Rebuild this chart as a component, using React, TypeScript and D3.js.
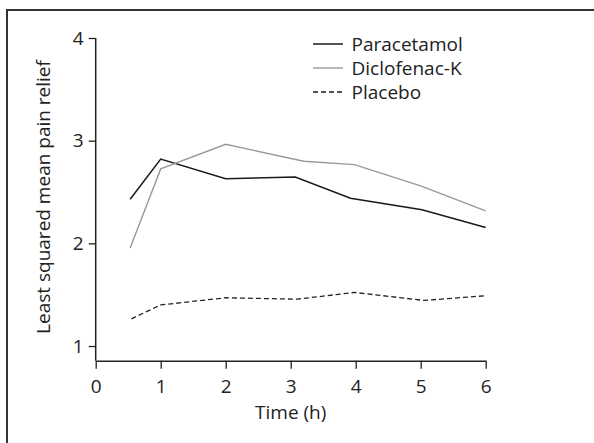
import * as React from "react";
import * as d3 from "d3";

// values
const paracetamolTime = [0.53, 1, 2, 3.07, 3.92, 5.02, 6];
const paracetamol = [2.43, 2.82, 2.63, 2.645, 2.44, 2.327, 2.155];
const diclofenacTime = [0.53, 1, 2, 3.2, 3.98, 5.0, 6];
const diclofenac = [1.955, 2.725, 2.965, 2.8, 2.767, 2.56, 2.317];
const placeboTime = [0.55, 1, 2, 3.1, 3.98, 5.05, 6];
const placebo = [1.265, 1.4, 1.47, 1.456, 1.522, 1.444, 1.49];

const xTicks = [0, 1, 2, 3, 4, 5, 6];
const yTicks = [1, 2, 3, 4];
const legendNames = ["Paracetamol", "Diclofenac-K", "Placebo"];

const FONT = "'Open Sans', Lato, sans-serif";
const FS = "19px";

export default function App() {
  const ref = React.useRef<SVGSVGElement>(null);

  React.useEffect(() => {
    const width = 594;
    const height = 443;
    const margin = { left: 95.7, top: 38, right: 108.3, bottom: 82.3 };
    const w = width - margin.left - margin.right;
    const h = height - margin.top - margin.bottom;

    const svg = d3.select(ref.current);
    svg.selectAll("*").remove();

    // frame (top + left edges only)
    svg.append("path")
      .attr("d", `M7,${height} L7,10 L${width},10`)
      .attr("fill", "none")
      .attr("stroke", "#333")
      .attr("stroke-width", 2);

    const x = d3.scaleLinear().domain([0, 6]).range([0, w]);
    const y = d3.scaleLinear().domain([0.857, 4]).range([h, 0]);

    const g = svg.append("g")
      .attr("transform", "translate(" + margin.left + "," + margin.top + ")");

    const xAxis = d3.axisBottom(x).tickValues(xTicks).tickFormat(d3.format("d"))
      .tickSize(8).tickSizeOuter(0).tickPadding(11);
    const yAxis = d3.axisLeft(y).tickValues(yTicks).tickFormat(d3.format("d"))
      .tickSize(7).tickSizeOuter(0).tickPadding(5);

    const gx = g.append("g").attr("transform", "translate(0," + h + ")").call(xAxis);
    const gy = g.append("g").call(yAxis);

    [gx, gy].forEach(ax => {
      ax.select(".domain").attr("stroke", "#222").attr("stroke-width", 1.5);
      ax.selectAll(".tick line").attr("stroke", "#222").attr("stroke-width", 1.3);
      ax.selectAll(".tick text")
        .attr("fill", "#222")
        .style("font-family", FONT)
        .style("font-size", FS);
    });
    // y axis domain starts at the top tick
    gy.select(".domain").attr("d", `M0,${y(4)}V${h}`);

    g.append("text")
      .attr("x", x(3))
      .attr("y", h + 58)
      .attr("text-anchor", "middle")
      .attr("fill", "#222")
      .style("font-family", FONT)
      .style("font-size", FS)
      .text("Time (h)");

    g.append("text")
      .attr("transform", "translate(" + (50.5 - margin.left) + "," + (197 - margin.top) + ") rotate(-90)")
      .attr("text-anchor", "middle")
      .attr("fill", "#222")
      .style("font-family", FONT)
      .style("font-size", FS)
      .text("Least squared mean pain relief");

    const series = [
      { t: paracetamolTime, v: paracetamol, color: "#1a1a1a", width: 1.5, dash: null },
      { t: diclofenacTime, v: diclofenac, color: "#999", width: 1.4, dash: null },
      { t: placeboTime, v: placebo, color: "#222", width: 1.3, dash: "5,3" },
    ];

    const line = d3.line<[number, number]>()
      .x(d => x(d[0]))
      .y(d => y(d[1]));

    series.forEach(s => {
      const pts = s.t.map((t, i) => [t, s.v[i]] as [number, number]);
      g.append("path")
        .attr("d", line(pts))
        .attr("fill", "none")
        .attr("stroke", s.color)
        .attr("stroke-width", s.width)
        .attr("stroke-dasharray", s.dash);
    });

    // legend
    const legend = svg.append("g").attr("transform", "translate(313,44)");
    legendNames.forEach((name, i) => {
      const s = series[i];
      legend.append("line")
        .attr("x1", 0).attr("x2", 30)
        .attr("y1", i * 24).attr("y2", i * 24)
        .attr("stroke", s.color)
        .attr("stroke-width", s.width)
        .attr("stroke-dasharray", s.dash);
      legend.append("text")
        .attr("x", 38.5)
        .attr("y", i * 24)
        .attr("dy", "0.35em")
        .attr("fill", "#222")
        .style("font-family", FONT)
        .style("font-size", FS)
        .text(name);
    });
  }, []);

  return (
    <svg ref={ref} width={594} height={443}
      style={{ position: "absolute", left: 0, top: 0, background: "#fff" }} />
  );
}
